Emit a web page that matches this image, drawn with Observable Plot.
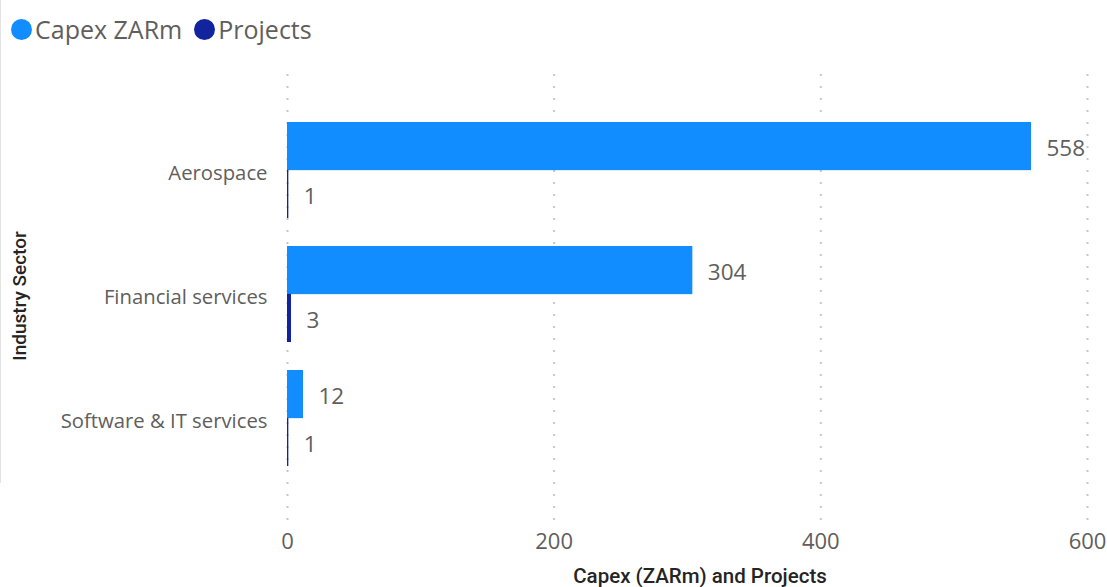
<!DOCTYPE html>
<html>
<head>
<meta charset="utf-8">
<script src="https://cdn.jsdelivr.net/npm/d3@7"></script>
<script src="https://cdn.jsdelivr.net/npm/@observablehq/plot@0.6"></script>
<style>
  html, body { margin: 0; padding: 0; background: #fff; }
  #wrap { position: relative; width: 1107px; height: 587px; overflow: hidden; font-family: "Open Sans", "Noto Sans", sans-serif; }
  #border { position: absolute; left: 0; top: 0; width: 1px; height: 483px; background: #e3e3e3; }
  #legend { position: absolute; left: 11px; top: 12px; display: flex; align-items: center; font-size: 25px; color: #605E5C; white-space: nowrap; }
  #legend .item { display: flex; align-items: center; margin-right: 12px; }
  #legend .sw { width: 21px; height: 21px; border-radius: 50%; margin-right: 3px; }
  #ytitle { position: absolute; left: 19px; top: 296px; transform: translate(-50%, -50%) rotate(-90deg); font-family: Roboto, sans-serif; font-weight: 500; font-size: 19px; color: #252423; white-space: nowrap; }
  #xtitle { position: absolute; left: 700px; top: 576px; transform: translate(-50%, -50%); font-family: Roboto, sans-serif; font-weight: 500; font-size: 20.5px; color: #252423; white-space: nowrap; }
  #chart { position: absolute; left: 0; top: 0; }
</style>
</head>
<body>
<div id="wrap">
  <div id="chart"></div>
  <div id="border"></div>
  <div id="legend"></div>
  <div id="ytitle"></div>
  <div id="xtitle"></div>
</div>
<script>
// ---- data ----
const sectors = ["Aerospace", "Financial services", "Software & IT services"];
const capex = [558, 304, 12];
const projects = [1, 3, 1];
const seriesNames = ["Capex ZARm", "Projects"];
const seriesColors = ["#118DFF", "#12239E"];
const xTicks = [0, 200, 400, 600];
const xTitle = "Capex (ZARm) and Projects";
const yTitle = "Industry Sector";

// ---- layout ----
const W = 1107, H = 587;
const mTop = 74, mBottom = 66, mLeft = 287, mRight = 20;
const insetTop = 48, insetBottom = 55;
const padInner = 0.229;
const bandSpan = (H - mTop - mBottom) - insetTop - insetBottom;
const bw = bandSpan / (sectors.length - padInner) * (1 - padInner);

const capexData = sectors.map((s, i) => ({sector: s, value: capex[i]}));
const projData = sectors.map((s, i) => ({sector: s, value: projects[i]}));

const plot = Plot.plot({
  width: W,
  height: H,
  marginTop: mTop,
  marginBottom: mBottom,
  marginLeft: mLeft,
  marginRight: mRight,
  style: {background: "transparent", fontFamily: "'Open Sans', 'Noto Sans', sans-serif"},
  x: {domain: [0, 600], axis: null},
  y: {domain: sectors, paddingInner: padInner, paddingOuter: 0, insetTop, insetBottom, axis: null},
  marks: [
    Plot.ruleX(xTicks, {stroke: "#c8c8c8", strokeWidth: 2, strokeDasharray: "2 10"}),
    Plot.barX(capexData, {y: "sector", x: "value", fill: seriesColors[0], insetBottom: bw / 2}),
    Plot.barX(projData, {y: "sector", x1: 0, x2: "value", fill: seriesColors[1], insetTop: bw / 2}),
    Plot.text(capexData, {y: "sector", x: "value", text: d => String(d.value), dy: -bw / 4 + 2, dx: 15, textAnchor: "start", fill: "#605E5C", fontSize: 22.5}),
    Plot.text(projData, {y: "sector", x: "value", text: d => String(d.value), dy: bw / 4 + 2, dx: 15, textAnchor: "start", fill: "#605E5C", fontSize: 22.5}),
    Plot.axisX(xTicks, {anchor: "bottom", tickSize: 0, tickPadding: 12, fontSize: 22, color: "#605E5C", label: null}),
    Plot.axisY({anchor: "left", tickSize: 0, tickPadding: 20, dy: 2.5, fontSize: 20.3, color: "#605E5C", label: null})
  ]
});
document.getElementById("chart").appendChild(plot);

// legend
const leg = document.getElementById("legend");
seriesNames.forEach((n, i) => {
  const it = document.createElement("div");
  it.className = "item";
  const sw = document.createElement("div");
  sw.className = "sw";
  sw.style.background = seriesColors[i];
  const t = document.createElement("span");
  t.textContent = n;
  it.appendChild(sw); it.appendChild(t);
  leg.appendChild(it);
});
document.getElementById("ytitle").textContent = yTitle;
document.getElementById("xtitle").textContent = xTitle;
</script>
</body>
</html>
